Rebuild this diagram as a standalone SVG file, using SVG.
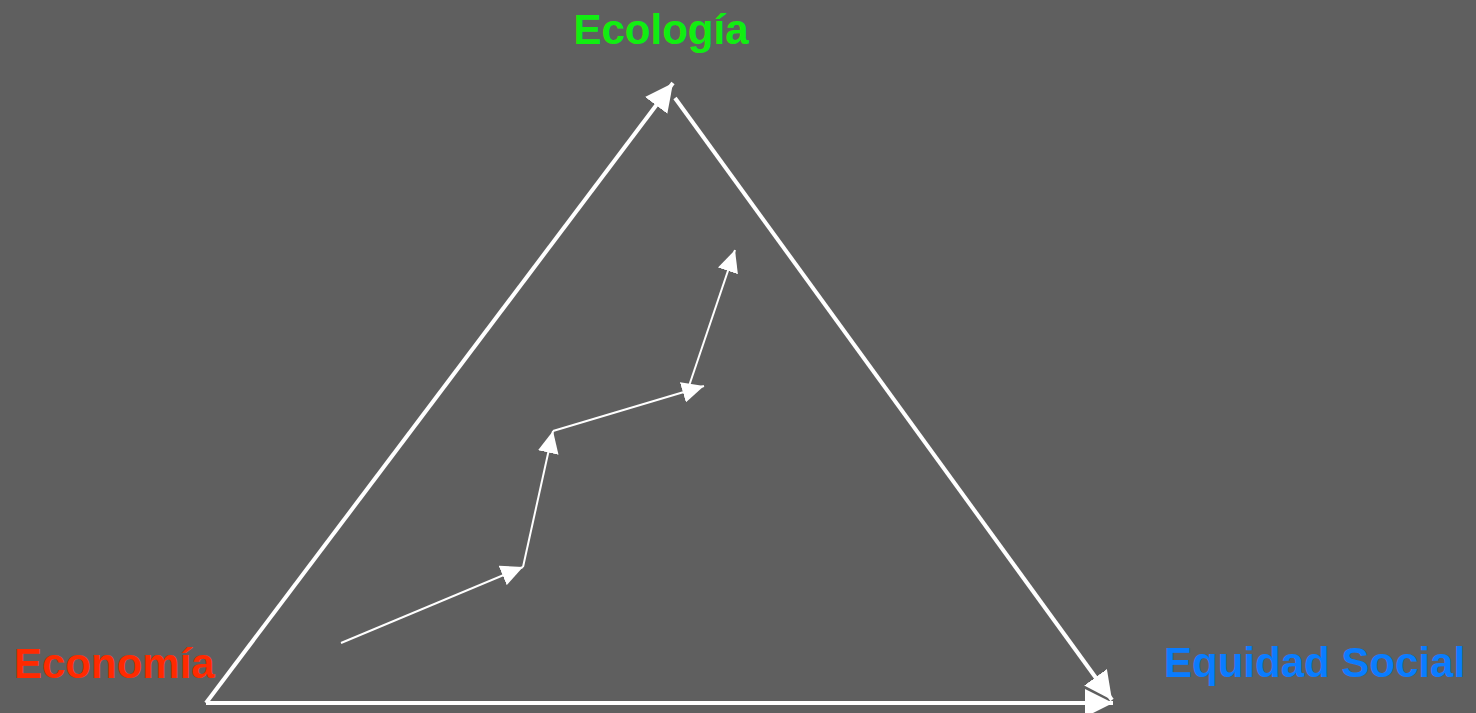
<svg xmlns="http://www.w3.org/2000/svg" width="1476" height="713" viewBox="0 0 1476 713">
<style>
.lbl{font-family:"Liberation Sans",Arial,sans-serif;font-weight:bold;font-size:42px}
.thick{stroke:#fff;stroke-width:4;fill:none}
.thin{stroke:#fff;stroke-width:2;fill:none}
</style>
<defs>
<marker id="big" markerUnits="userSpaceOnUse" markerWidth="28" markerHeight="28" refX="28" refY="14" orient="auto"><path d="M0,0 L28,14 L0,28 z" fill="#fff"/></marker>
<marker id="small" markerUnits="userSpaceOnUse" markerWidth="22" markerHeight="21" refX="22" refY="10.5" orient="auto"><path d="M0,0 L22,10.5 L0,21 z" fill="#fff"/></marker>
</defs>
<rect width="1476" height="713" fill="#5f5f5f"/>
<g id="connectors">
<line class="thick" x1="206" y1="703" x2="673" y2="83" marker-end="url(#big)"/>
<line class="thick" x1="675" y1="98" x2="1112" y2="700" marker-end="url(#big)"/>
<line class="thick" x1="206" y1="703" x2="1113" y2="703" marker-end="url(#big)"/>
<line class="thin" x1="341" y1="643" x2="523" y2="567" marker-end="url(#small)"/>
<line class="thin" x1="523" y1="567" x2="553" y2="431" marker-end="url(#small)"/>
<line class="thin" x1="553" y1="431" x2="704" y2="386" marker-end="url(#small)"/>
<line class="thin" x1="689" y1="386" x2="735" y2="250" marker-end="url(#small)"/>
</g>
<g id="ecologia"><text class="lbl" x="661" y="44" text-anchor="middle" fill="#11ee11">Ecología</text></g>
<g id="economia"><text class="lbl" x="14" y="678" fill="#ff2a00">Economía</text></g>
<g id="equidad"><text class="lbl" x="1164" y="677" fill="#0a7cff">Equidad Social</text></g>
</svg>
